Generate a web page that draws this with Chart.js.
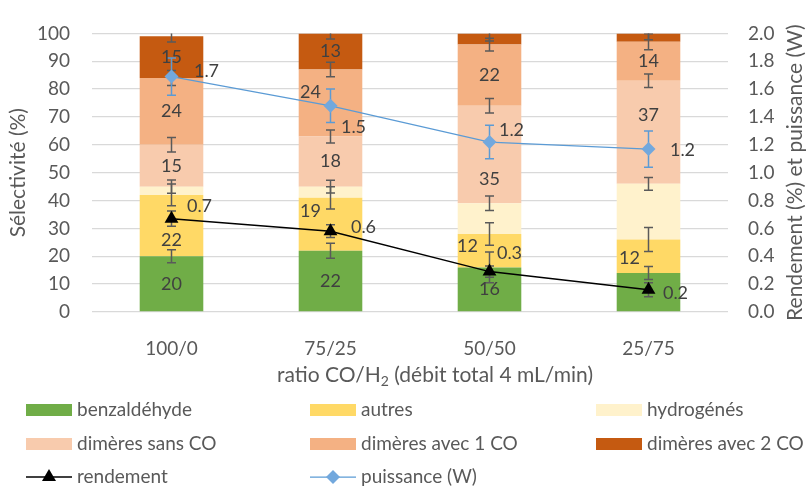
<!DOCTYPE html>
<html>
<head>
<meta charset="utf-8">
<script src="https://cdn.jsdelivr.net/npm/chart.js@4.4.1/dist/chart.umd.min.js"></script>
<style>
  html, body { margin: 0; padding: 0; background: #fff; }
  #wrap { width: 812px; height: 488px; }
</style>
</head>
<body>
<div id="wrap"><canvas id="chart" width="812" height="488"></canvas></div>
<script>
// Data
const categories = ['100/0', '75/25', '50/50', '25/75'];

const benzaldehyde = [20, 22, 16, 14];
const autres = [22, 19, 12, 12];
const hydrogenes = [3, 4, 11, 20];
const dimeresSansCO = [15, 18, 35, 37];
const dimeres1CO = [24, 24, 22, 14];
const dimeres2CO = [15, 13, 4, 3];

const rendement = [0.67, 0.58, 0.29, 0.16];
const puissance = [1.69, 1.48, 1.22, 1.17];

// error bars (+/-)
const benzErr = [2.3, 2.7, 5.5, 2.3];
const autresErr = [3.9, 4, 4, 4.3];
const hydroErr = [2.4, 2.3, 2.6, 2.3];
const sansCOErr = [2.6, 2.3, 2.6, 2.4];
const co1Err = [2.7, 2.6, 2.3, 2.9];
const co2Err = [2.1, 2, 2.7, 2.3];
const rendementErr = [0.055, 0.046, 0.04, 0.05];
const puissanceErr = [0.134, 0.12, 0.12, 0.13];

const FONT = 'Lato, "Liberation Sans", sans-serif';
const TEXT = '#595959';
const LABEL = '#404040';
const ERR_GREY = '#5a5a5a';

// manual nudges of data labels, like in the original sheet
const segShift = {
    '1-0': [0, 15], '1-1': [-20, -13], '1-2': [-22, -5], '1-3': [-19, 2],
    '4-1': [-20, -11], '3-2': [0, 25], '3-3': [0, -17]
};
const segHidden = ['0-3', '5-2', '5-3'];
const lineShift = {
    6: [[28, -12], [33, -4], [20, -18], [27, 3]],
    7: [[35, -5], [23, 21], [22, -12], [34, 1]]
};

function bar(label, data, color, errors) {
    return {
        type: 'bar', label: label, data: data, errors: errors,
        backgroundColor: color, borderWidth: 0,
        yAxisID: 'y', stack: 's', order: 1,
        barPercentage: 0.4, categoryPercentage: 1
    };
}

function drawErr(ctx, x, top, bottom, color) {
    ctx.save();
    ctx.strokeStyle = color;
    ctx.lineWidth = 1.5;
    ctx.beginPath();
    ctx.moveTo(x, top); ctx.lineTo(x, bottom);
    ctx.moveTo(x - 4.5, top); ctx.lineTo(x + 4.5, top);
    ctx.moveTo(x - 4.5, bottom); ctx.lineTo(x + 4.5, bottom);
    ctx.stroke();
    ctx.restore();
}

const extras = {
    id: 'extras',
    afterDatasetDraw(chart, args) {
        // last bar drawn -> put the grey error bars on the stacks
        if (args.index !== 0) return;
        const ctx = chart.ctx, a = chart.chartArea, ys = chart.scales.y;
        ctx.save();
        ctx.beginPath();
        ctx.rect(a.left, a.top, a.right - a.left, a.bottom - a.top);
        ctx.clip();
        chart.data.datasets.forEach((ds, d) => {
            if (ds.type !== 'bar') return;
            chart.getDatasetMeta(d).data.forEach((el, i) => {
                const v = ys.getValueForPixel(el.y);
                drawErr(ctx, el.x, ys.getPixelForValue(v + ds.errors[i]),
                        ys.getPixelForValue(v - ds.errors[i]), ERR_GREY);
            });
        });
        ctx.restore();
    },
    beforeDatasetDraw(chart, args) {
        const ds = chart.data.datasets[args.index];
        if (ds.type !== 'line') return;
        const y2 = chart.scales.y2;
        args.meta.data.forEach((pt, i) => {
            const v = ds.data[i];
            drawErr(chart.ctx, pt.x, y2.getPixelForValue(v + ds.errors[i]),
                    y2.getPixelForValue(v - ds.errors[i]), ds.errorColor);
        });
    },
    afterDatasetsDraw(chart) {
        const ctx = chart.ctx;
        ctx.save();
        ctx.font = '18px ' + FONT;
        ctx.fillStyle = LABEL;
        ctx.textAlign = 'center';
        ctx.textBaseline = 'middle';
        chart.data.datasets.forEach((ds, d) => {
            const meta = chart.getDatasetMeta(d);
            meta.data.forEach((el, i) => {
                if (ds.type === 'bar') {
                    const key = d + '-' + i;
                    if (d === 2 || segHidden.includes(key)) return;
                    const s = segShift[key] || [0, 0];
                    ctx.fillText(String(ds.data[i]), el.x + s[0], (el.y + el.base) / 2 + s[1]);
                } else {
                    const s = lineShift[d][i];
                    ctx.fillText(ds.data[i].toFixed(1), el.x + s[0], el.y + s[1]);
                }
            });
        });
        ctx.restore();
    },
    afterDraw(chart) {
        const ctx = chart.ctx, a = chart.chartArea;
        ctx.save();
        ctx.fillStyle = TEXT;
        ctx.textBaseline = 'middle';

        // axis titles
        ctx.font = '21px ' + FONT;
        ctx.textAlign = 'center';
        ctx.save();
        ctx.translate(18, (a.top + a.bottom) / 2);
        ctx.rotate(-Math.PI / 2);
        ctx.fillText('Sélectivité (%)', 0, 0);
        ctx.restore();
        ctx.save();
        ctx.translate(795, (a.top + a.bottom) / 2);
        ctx.rotate(-Math.PI / 2);
        ctx.fillText('Rendement (%) et puissance (W)', 0, 0);
        ctx.restore();

        // x title with subscript
        const p1 = 'ratio CO/H', p2 = '2', p3 = ' (débit total 4 mL/min)';
        ctx.textAlign = 'left';
        ctx.font = '21px ' + FONT;
        const w1 = ctx.measureText(p1).width, w3 = ctx.measureText(p3).width;
        ctx.font = '14px ' + FONT;
        const w2 = ctx.measureText(p2).width;
        const x = 435 - (w1 + w2 + w3) / 2;
        const ty = 375;
        ctx.font = '21px ' + FONT;
        ctx.fillText(p1, x, ty);
        ctx.font = '14px ' + FONT;
        ctx.fillText(p2, x + w1, ty + 6);
        ctx.font = '21px ' + FONT;
        ctx.fillText(p3, x + w1 + w2, ty);

        // legend in three columns
        const cols = [26, 310, 596], rows = [410, 444, 477];
        ctx.font = '19px ' + FONT;
        chart.data.datasets.forEach((ds, d) => {
            const bx = cols[d % 3], cy = rows[Math.floor(d / 3)];
            if (ds.type === 'bar') {
                ctx.fillStyle = ds.backgroundColor;
                ctx.fillRect(bx, cy - 6, 46, 12);
            } else {
                ctx.strokeStyle = ds.borderColor;
                ctx.lineWidth = ds.borderWidth;
                ctx.beginPath();
                ctx.moveTo(bx, cy); ctx.lineTo(bx + 46, cy);
                ctx.stroke();
                ctx.fillStyle = ds.pointBackgroundColor;
                const mx = bx + 23;
                ctx.beginPath();
                if (ds.pointStyle === 'triangle') {
                    ctx.moveTo(mx, cy - 8); ctx.lineTo(mx + 7, cy + 4); ctx.lineTo(mx - 7, cy + 4);
                } else {
                    ctx.moveTo(mx, cy - 7); ctx.lineTo(mx + 7, cy); ctx.lineTo(mx, cy + 7); ctx.lineTo(mx - 7, cy);
                }
                ctx.closePath();
                ctx.fill();
            }
            ctx.fillStyle = TEXT;
            ctx.fillText(ds.label, bx + 51, cy);
        });
        ctx.restore();
    }
};

const datasets = [
    bar('benzaldéhyde', benzaldehyde, '#70AD47', benzErr),
    bar('autres', autres, '#FFD966', autresErr),
    bar('hydrogénés', hydrogenes, '#FFF2CC', hydroErr),
    bar('dimères sans CO', dimeresSansCO, '#F8CBAD', sansCOErr),
    bar('dimères avec 1 CO', dimeres1CO, '#F4B183', co1Err),
    bar('dimères avec 2 CO', dimeres2CO, '#C55A11', co2Err),
    {
        type: 'line', label: 'rendement', data: rendement, errors: rendementErr,
        errorColor: ERR_GREY, yAxisID: 'y2', order: 0,
        borderColor: '#000000', borderWidth: 1.5,
        pointStyle: 'triangle', pointRadius: 8,
        pointBackgroundColor: '#000000', pointBorderColor: '#000000', pointBorderWidth: 0
    },
    {
        type: 'line', label: 'puissance (W)', data: puissance, errors: puissanceErr,
        errorColor: '#5B9BD5', yAxisID: 'y2', order: 0,
        borderColor: '#5B9BD5', borderWidth: 1.25,
        pointStyle: 'rectRot', pointRadius: 7,
        pointBackgroundColor: '#72A8DD', pointBorderColor: '#72A8DD', pointBorderWidth: 0
    }
];

new Chart(document.getElementById('chart'), {
    data: { labels: categories, datasets: datasets },
    options: {
        responsive: false,
        animation: false,
        devicePixelRatio: 1,
        layout: { padding: { top: 23, bottom: 0, left: 0, right: 0 } },
        plugins: {
            legend: { display: false },
            tooltip: { enabled: false }
        },
        scales: {
            x: {
                stacked: true,
                grid: { display: false },
                border: { display: false },
                ticks: { color: TEXT, font: { family: FONT, size: 19 }, padding: 17 },
                afterFit(scale) { scale.height = 176; }
            },
            y: {
                stacked: true,
                min: 0, max: 100,
                ticks: { stepSize: 10, color: TEXT, font: { family: FONT, size: 19 }, padding: 22 },
                grid: { color: '#D9D9D9', lineWidth: 1.3, drawTicks: false },
                border: { display: false },
                afterFit(scale) { scale.width = 92; }
            },
            y2: {
                position: 'right',
                min: 0, max: 2,
                ticks: {
                    stepSize: 0.2, color: TEXT, font: { family: FONT, size: 19 }, padding: 20,
                    callback: v => v.toFixed(1)
                },
                grid: { drawOnChartArea: false, drawTicks: false },
                border: { display: false },
                afterFit(scale) { scale.width = 84; }
            }
        }
    },
    plugins: [extras]
});
</script>
</body>
</html>
